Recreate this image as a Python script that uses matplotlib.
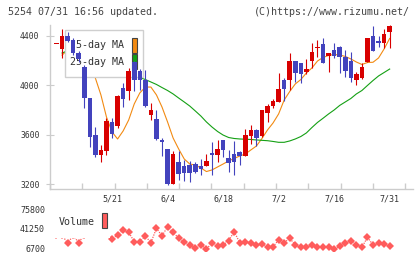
import matplotlib
matplotlib.use('Agg')
import matplotlib.pyplot as plt
from matplotlib.patches import Rectangle
import numpy as np

# daily candles 5/7 .. 7/31
opens = [4335, 4292, 4400, 4368, 4262, 4151, 3895, 3597, 3435, 3468,
         3700, 3673, 3976, 3956, 4189, 4116, 4043, 3759, 3724, 3557,
         3482, 3200, 3381, 3346, 3354, 3360, 3346, 3349, 3449, 3435,
         3557, 3408, 3443, 3457, 3430, 3592, 3638, 3592, 3773, 3832,
         3867, 4043, 4043, 4200, 4184, 4105, 4200, 4300, 4335, 4241,
         4287, 4314, 4232, 4197, 4043, 4062, 4192, 4400, 4360, 4346, 4435]
closes = [4335, 4400, 4362, 4260, 4212, 3895, 3584, 3435, 3476, 3711,
          3603, 3916, 3889, 4116, 4043, 4043, 3835, 3800, 3565, 3543,
          3197, 3443, 3278, 3292, 3292, 3295, 3322, 3387, 3435, 3484,
          3476, 3373, 3381, 3430, 3597, 3638, 3576, 3800, 3835, 3875,
          3970, 3970, 4200, 4103, 4092, 4133, 4268, 4300, 4184, 4265,
          4238, 4232, 4119, 4062, 4089, 4151, 4381, 4278, 4346, 4414, 4481]
highs = [4335, 4457, 4430, 4381, 4275, 4165, 3895, 3665, 3516, 3733,
         3738, 3920, 4016, 4143, 4200, 4130, 4124, 3854, 3800, 3576,
         3482, 3467, 3467, 3395, 3390, 3378, 3400, 3441, 3543, 3557,
         3557, 3476, 3549, 3465, 3646, 3678, 3645, 3800, 3846, 3889,
         4097, 4057, 4265, 4200, 4184, 4211, 4346, 4368, 4381, 4265,
         4346, 4320, 4287, 4268, 4111, 4178, 4387, 4481, 4400, 4457, 4489]
lows = [4335, 4219, 4354, 4246, 4190, 3814, 3502, 3421, 3376, 3435,
        3570, 3652, 3827, 3881, 3955, 3962, 3827, 3719, 3557, 3430,
        3190, 3200, 3232, 3225, 3213, 3289, 3273, 3349, 3273, 3381,
        3416, 3300, 3273, 3354, 3430, 3522, 3511, 3584, 3705, 3813,
        3867, 3873, 3962, 4030, 4016, 4092, 4138, 4232, 4178, 4111,
        4219, 4103, 4065, 4024, 4003, 4051, 4192, 4278, 4313, 4300, 4305]

nan = float('nan')
ma5 = [nan, 4245, 4285, 4300, 4290, 4230, 4150, 4059, 3922, 3743,
       3622, 3565, 3630, 3719, 3849, 3938, 3986, 3986, 3922, 3824,
       3703, 3573, 3484, 3403, 3362, 3354, 3330, 3301, 3314, 3338,
       3362, 3387, 3407, 3427, 3443, 3476, 3508, 3569, 3638, 3695,
       3768, 3881, 3950, 4011, 4047, 4100, 4141, 4197, 4226, 4242,
       4250, 4246, 4234, 4214, 4189, 4169, 4185, 4187, 4222, 4295, 4380]
ma25 = [nan, 4262, 4280, 4280, 4275, 4265, 4250, 4235, 4220, 4200,
        4180, 4160, 4135, 4105, 4075, 4063, 4047, 4027, 4007, 3982,
        3958, 3930, 3897, 3865, 3832, 3792, 3751, 3703, 3662, 3626,
        3597, 3577, 3569, 3565, 3563, 3561, 3557, 3554, 3551, 3545,
        3538, 3538, 3549, 3565, 3585, 3614, 3658, 3699, 3733, 3768,
        3800, 3837, 3865, 3893, 3930, 3958, 3999, 4039, 4076, 4104, 4132]

volume = [30000, 31000, 16500, 30000, 17600, 31000, 36000, 42000, 38000, 33000,
          24000, 30900, 39500, 35600, 19300, 19300, 29200, 17600, 42500, 29200,
          45200, 35600, 25200, 19300, 13600, 7900, 13600, 6200, 17600, 11900,
          13600, 21000, 36600, 17600, 19300, 17600, 13600, 15300, 9600, 10700,
          22300, 17600, 25200, 13600, 9600, 9600, 13600, 9600, 10700, 10700,
          6200, 11900, 17600, 21000, 13600, 9600, 26900, 13600, 16500, 15300, 11900]

date_labels = ['5/21', '6/4', '6/18', '7/2', '7/16', '7/31']
date_pos = [10, 20, 30, 40, 50, 60]
price_ticks = [3200, 3600, 4000, 4400]
vol_ticks = [6700, 41250, 75800]

W, H = 420, 259
def fx(x):
    return x / W
def fy(y):
    return 1 - y / H

mono = 'DejaVu Sans Mono'
txt = '#333333'
grid = '#cccccc'
red = '#d80000'
blue = '#4343bd'

fig = plt.figure(figsize=(4.2, 2.59), dpi=100)
ax = fig.add_axes([fx(50), fy(189), fx(413) - fx(50), fy(25) - fy(189)])
axv = fig.add_axes([fx(50), fy(251.1), fx(413) - fx(50), fy(206.6) - fy(251.1)])

idx = np.arange(len(opens))
o = np.array(opens); c = np.array(closes)
up = c >= o
col = np.where(up, red, blue)

ax.plot(idx, ma5, color='#f28a12', lw=0.8, zorder=1)
ax.plot(idx, ma25, color='#14a014', lw=0.8, zorder=1)

ax.vlines(idx, lows, highs, colors=col, lw=0.8, zorder=3)
body_lo = np.minimum(o, c)
body_h = np.maximum(np.abs(c - o), 8)
ax.bar(idx, body_h, bottom=body_lo, width=0.82, color=col, zorder=3.1, linewidth=0)

# legend box (drawn under the candles, over the moving averages)
ax.add_patch(Rectangle((fx(65), fy(77)), fx(143) - fx(65), fy(30) - fy(77),
                       transform=fig.transFigure, facecolor='white', edgecolor='#cfcfcf',
                       lw=1, zorder=2))
ax.text(fx(124.5), fy(45.5), '5-day MA', transform=fig.transFigure, ha='right', va='center',
        family=mono, fontsize=7.2, color=txt, zorder=2.1)
ax.text(fx(124.5), fy(62), '25-day MA', transform=fig.transFigure, ha='right', va='center',
        family=mono, fontsize=7.2, color=txt, zorder=2.1)
ax.add_patch(Rectangle((fx(131.5), fy(52.5)), fx(137) - fx(131.5), fy(37.5) - fy(52.5),
                       transform=fig.transFigure, facecolor='#f28a12', edgecolor='#444444',
                       lw=0.8, zorder=2.1))
ax.add_patch(Rectangle((fx(131.5), fy(69)), fx(137) - fx(131.5), fy(54) - fy(69),
                       transform=fig.transFigure, facecolor='#14a014', edgecolor='#444444',
                       lw=0.8, zorder=2.1))

ax.set_xlim(-1.17, 64.2)
ax.set_ylim(3159.5, 4489)
for s in ['top', 'right']:
    ax.spines[s].set_visible(False)
for s in ['left', 'bottom']:
    ax.spines[s].set_color(grid)
    ax.spines[s].set_linewidth(1)
ax.set_yticks(price_ticks)
ax.set_yticklabels([str(v) for v in price_ticks], family=mono, fontsize=5.8, color=txt)
ax.tick_params(axis='y', direction='inout', length=6, width=0.8, color=grid, pad=4.5)
ax.set_xticks(np.linspace(-1.17, 62.8, 12))
ax.set_xticklabels([])
ax.tick_params(axis='x', which='major', direction='in', length=4.3, width=1, color=grid)
ax.set_xticks(date_pos, minor=True)
ax.set_xticklabels(date_labels, minor=True, family=mono, fontsize=6, color=txt)
ax.tick_params(axis='x', which='minor', length=0, pad=4)

# volume panel
axv.plot(idx, volume, color='#ff5c5c', ls=(0, (1, 1)), lw=0.9, marker='D', ms=4.3,
         markeredgewidth=0, zorder=1)
axv.set_xlim(-1.17, 64.2)
axv.set_ylim(3000, 80000)
for s in axv.spines.values():
    s.set_visible(False)
axv.set_xticks([])
axv.set_yticks(vol_ticks)
axv.set_yticklabels([str(v) for v in vol_ticks], family=mono, fontsize=6, color=txt)
axv.tick_params(axis='y', length=0, pad=3.6)
axv.patch.set_alpha(0)

fig.add_artist(Rectangle((fx(52), fy(237.5)), fx(110) - fx(52), fy(204) - fy(237.5),
                         transform=fig.transFigure, facecolor='white', edgecolor='none', zorder=5))
fig.text(fx(59), fy(222), 'Volume', ha='left', va='center', family=mono, fontsize=7.2,
         color=txt, zorder=6)
fig.add_artist(Rectangle((fx(101.7), fy(228.3)), fx(107.3) - fx(101.7), fy(213.3) - fy(228.3),
                         transform=fig.transFigure, facecolor='#ff5c5c', edgecolor='#444444',
                         lw=0.8, zorder=6))

fig.text(fx(8), fy(12), '5254 07/31 16:56 updated.', ha='left', va='center',
         family=mono, fontsize=7.2, color='#444444')
fig.text(fx(410), fy(12), '(C)https://www.rizumu.net/', ha='right', va='center',
         family=mono, fontsize=7.2, color='#444444')

fig.savefig('out.png', dpi=100)
